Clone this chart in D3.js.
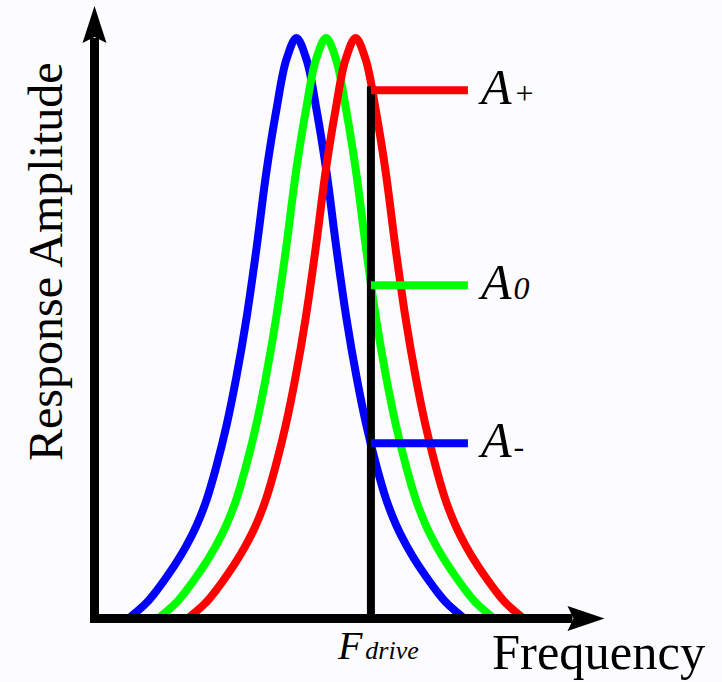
<!DOCTYPE html>
<html>
<head>
<meta charset="utf-8">
<script src="https://cdn.jsdelivr.net/npm/d3@7"></script>
<style>
  html, body { margin: 0; padding: 0; background: #fcfbfe; }
  svg { display: block; }
</style>
</head>
<body>
<svg id="chart" width="722" height="682"></svg>
<script>
// Axis extents (arbitrary frequency units, normalised amplitude)
const frequencyDomain = [0, 100];
const amplitudeDomain = [0, 1.055];

// Sampled response amplitude, shared by the three resonance curves
const responseAmp = [0, 0.011, 0.027, 0.047, 0.071, 0.097, 0.125, 0.160, 0.205, 0.262, 0.333, 0.415, 0.517, 0.640, 0.769, 0.878, 0.962, 1,
                     0.962, 0.878, 0.769, 0.640, 0.517, 0.415, 0.333, 0.262, 0.205, 0.160, 0.125, 0.097, 0.071, 0.047, 0.027, 0.011, 0];

// Frequencies of the samples for each resonance (lowered, nominal, raised)
const blueFreq  = [6.7, 8.2, 10.2, 12.1, 14.1, 16.1, 18.0, 20.0, 22.0, 23.9, 25.9, 27.8, 29.8, 31.8, 33.7, 35.7, 37.6, 39.6,
                   41.6, 43.5, 45.5, 47.4, 49.4, 51.4, 53.3, 55.3, 57.2, 59.2, 61.2, 63.1, 65.1, 67.1, 69.0, 71.0, 72.5];
const greenFreq = [12.5, 14.0, 16.0, 17.9, 19.9, 21.9, 23.8, 25.8, 27.8, 29.7, 31.7, 33.6, 35.6, 37.6, 39.5, 41.5, 43.4, 45.4,
                   47.4, 49.3, 51.3, 53.2, 55.2, 57.2, 59.1, 61.1, 63.0, 65.0, 67.0, 68.9, 70.9, 72.9, 74.8, 76.8, 78.3];
const redFreq   = [18.3, 19.8, 21.8, 23.7, 25.7, 27.7, 29.6, 31.6, 33.6, 35.5, 37.5, 39.4, 41.4, 43.4, 45.3, 47.3, 49.2, 51.2,
                   53.2, 55.1, 57.1, 59.0, 61.0, 63.0, 64.9, 66.9, 68.8, 70.8, 72.8, 74.7, 76.7, 78.7, 80.6, 82.6, 84.1];

// Drive frequency and the response amplitude read at it for each curve
const driveFreq = 54.2;
const levelNames = ["+", "0", "-"];
const levelAmp = [0.910, 0.574, 0.302];
const levelColors = ["#ff0000", "#00ff00", "#0000ff"];

const svg = d3.select("#chart");
const x = d3.scaleLinear().domain(frequencyDomain).range([94.5, 604.5]);
const y = d3.scaleLinear().domain([0, 1]).range([618.5, 38]);

const serif = "'Liberation Serif', 'Times New Roman', serif";

// Resonance curves
const series = [
  { freq: blueFreq, color: "#0000ff" },
  { freq: greenFreq, color: "#00ff00" },
  { freq: redFreq, color: "#ff0000" }
];
const line = d3.line()
  .x(d => x(d[0]))
  .y(d => y(d[1]))
  .curve(d3.curveCatmullRom.alpha(0.5));

svg.append("g").selectAll("path")
  .data(series)
  .join("path")
  .attr("d", s => line(s.freq.map((f, i) => [f, responseAmp[i]])))
  .attr("fill", "none")
  .attr("stroke", s => s.color)
  .attr("stroke-width", 8)
  .attr("stroke-linejoin", "round");

// Drive frequency marker
svg.append("line")
  .attr("x1", x(driveFreq)).attr("x2", x(driveFreq))
  .attr("y1", y(0)).attr("y2", y(d3.max(levelAmp)))
  .attr("stroke", "#000")
  .attr("stroke-width", 8)
  .attr("stroke-linecap", "square");

// Amplitude read-outs at the drive frequency
const lineLen = 97;
svg.append("g").selectAll("line")
  .data(levelAmp)
  .join("line")
  .attr("x1", x(driveFreq))
  .attr("x2", x(driveFreq) + lineLen)
  .attr("y1", d => y(d))
  .attr("y2", d => y(d))
  .attr("stroke", (d, i) => levelColors[i])
  .attr("stroke-width", 8);

const labels = svg.append("g").selectAll("text")
  .data(levelAmp)
  .join("text")
  .attr("x", x(driveFreq) + lineLen + 13)
  .attr("y", d => y(d) + 13.5)
  .attr("font-family", serif)
  .attr("font-style", "italic")
  .attr("fill", "#000");
labels.append("tspan").attr("font-size", 50).text("A");
labels.append("tspan").attr("font-size", 32).attr("dx", 2).text((d, i) => levelNames[i]);

// Axes with arrowheads
const x0 = x(0), y0 = y(0);
const yTop = y(amplitudeDomain[1]);
const xEnd = x(frequencyDomain[1]);
const axes = svg.append("g");
axes.append("line")
  .attr("x1", x0).attr("x2", x0)
  .attr("y1", y0 + 4.5).attr("y2", yTop + 32)
  .attr("stroke", "#000").attr("stroke-width", 9);
axes.append("path")
  .attr("d", `M${x0},${yTop} L${x0 + 12},${yTop + 37} L${x0},${yTop + 31} L${x0 - 12},${yTop + 37} Z`)
  .attr("fill", "#000");
axes.append("line")
  .attr("x1", x0 - 4.5).attr("x2", xEnd - 32)
  .attr("y1", y0).attr("y2", y0)
  .attr("stroke", "#000").attr("stroke-width", 9);
axes.append("path")
  .attr("d", `M${xEnd},${y0} L${xEnd - 37},${y0 + 12.5} L${xEnd - 31},${y0} L${xEnd - 37},${y0 - 12.5} Z`)
  .attr("fill", "#000");

// Axis titles
svg.append("text")
  .attr("transform", `translate(61.5,461) rotate(-90)`)
  .attr("font-family", serif)
  .attr("font-size", 48)
  .attr("fill", "#000")
  .text("Response Amplitude");

svg.append("text")
  .attr("x", 492).attr("y", 669)
  .attr("font-family", serif)
  .attr("font-size", 50.5)
  .attr("fill", "#000")
  .text("Frequency");

const fd = svg.append("text")
  .attr("x", x(driveFreq) - 33).attr("y", 659)
  .attr("font-family", serif)
  .attr("font-style", "italic")
  .attr("fill", "#000");
fd.append("tspan").attr("font-size", 40).text("F");
fd.append("tspan").attr("font-size", 26).attr("dx", 3).text("drive");
</script>
</body>
</html>
